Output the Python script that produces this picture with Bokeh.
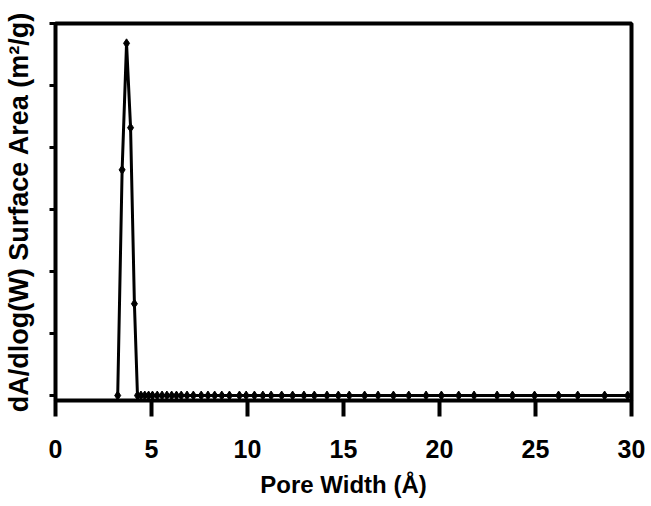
from bokeh.plotting import figure
from bokeh.models import Range1d, FixedTicker
from bokeh.embed import file_html
from bokeh.resources import INLINE

pore_width = [3.24, 3.47, 3.70, 3.91, 4.11, 4.27, 4.45, 4.65, 4.85, 5.05, 5.30, 5.55,
              5.80, 6.05, 6.30, 6.55, 6.85, 7.18, 7.59, 7.94, 8.29, 8.66, 9.06, 9.58,
              9.93, 10.36, 10.80, 11.23, 11.78, 12.35, 12.94, 13.48, 14.14, 14.73,
              15.30, 16.10, 16.80, 17.60, 18.40, 19.30, 20.10, 21.00, 21.80, 23.00,
              23.80, 24.95, 26.20, 27.20, 28.60, 29.80]
surface_area = [0.0, 3.64, 5.68, 4.32, 1.48, 0.0] + [0.0] * 44
x_ticks = [0, 5, 10, 15, 20, 25, 30]
y_ticks = [0, 1, 2, 3, 4, 5, 6]

FONT = "Liberation Sans"

p = figure(width=645, height=500, output_backend="svg", toolbar_location=None,
           x_range=Range1d(0, 30), y_range=Range1d(-0.08, 6.0),
           min_border_left=53, min_border_right=14, min_border_top=23, min_border_bottom=95)

p.line(pore_width, surface_area, line_color="black", line_width=3)
p.scatter(pore_width, surface_area, marker="diamond", size=9, color="black")

p.xgrid.visible = False
p.ygrid.visible = False
p.outline_line_color = "black"
p.outline_line_width = 4
p.outline_line_alpha = 1

xa = p.xaxis[0]
xa.ticker = FixedTicker(ticks=x_ticks)
xa.axis_line_width = 3
xa.axis_line_color = "black"
xa.major_tick_line_width = 4
xa.major_tick_line_color = "black"
xa.major_tick_out = 16
xa.major_tick_in = 0
xa.minor_tick_line_color = None
xa.major_label_text_font = FONT
xa.major_label_text_font_style = "bold"
xa.major_label_text_font_size = "25px"
xa.major_label_text_color = "black"
xa.major_label_standoff = 23
xa.axis_label = "Pore Width (Å)"
xa.axis_label_text_font = FONT
xa.axis_label_text_font_style = "bold"
xa.axis_label_text_font_size = "24px"
xa.axis_label_text_color = "black"
xa.axis_label_standoff = 10

ya = p.yaxis[0]
ya.ticker = FixedTicker(ticks=y_ticks)
ya.axis_line_width = 3
ya.major_tick_line_width = 3
ya.major_tick_out = 6
ya.major_tick_in = 0
ya.minor_tick_line_color = None
ya.major_label_overrides = {t: "" for t in y_ticks}
ya.major_label_standoff = 0
ya.axis_label = "dA/dlog(W) Surface Area (m²/g)"
ya.axis_label_text_font = FONT
ya.axis_label_text_font_style = "bold"
ya.axis_label_text_font_size = "27px"
ya.axis_label_text_color = "black"
ya.axis_label_standoff = 16

open("out.html", "w").write(file_html(p, INLINE))
